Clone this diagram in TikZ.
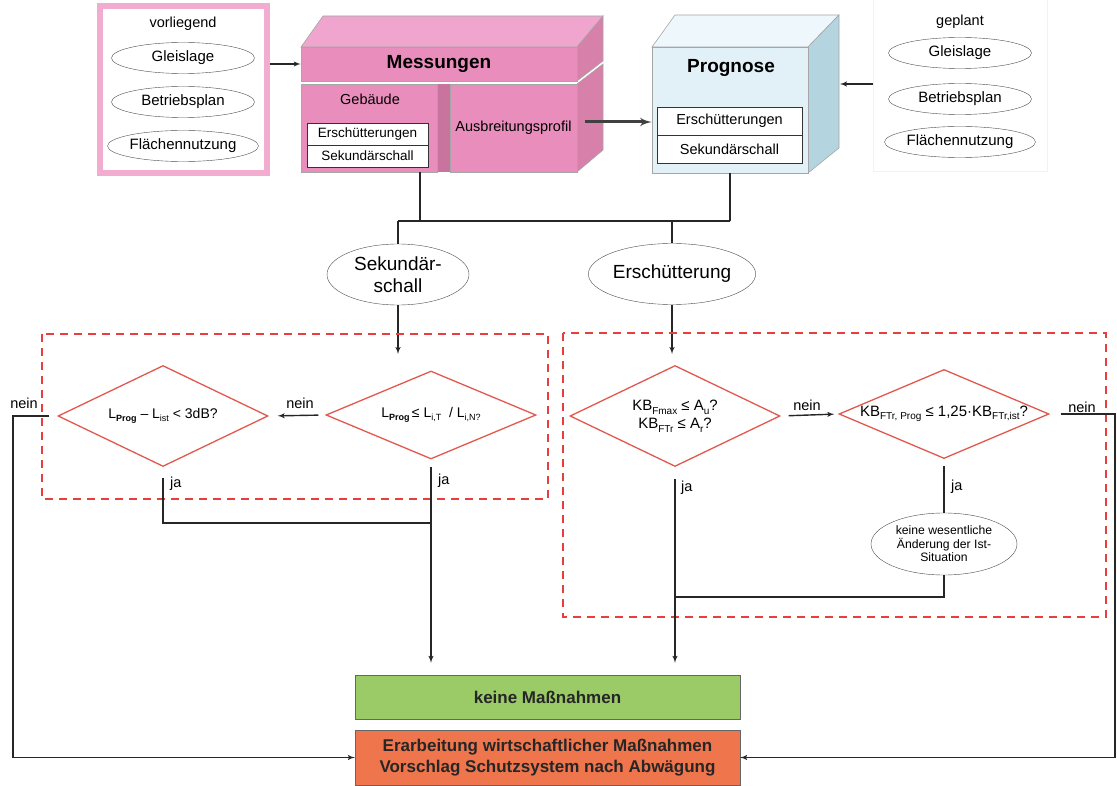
\documentclass[tikz,border=0pt]{standalone}
\usepackage{fontspec}
\setmainfont{Liberation Sans}
\usepackage{tikz}
\usetikzlibrary{shapes,arrows,positioning,calc}
\definecolor{messfront}{RGB}{233,142,188}
\definecolor{messtop}{RGB}{239,165,205}
\definecolor{messside}{RGB}{214,128,170}
\definecolor{messgap}{RGB}{200,116,158}
\definecolor{progfront}{RGB}{226,241,247}
\definecolor{progtop}{RGB}{238,247,251}
\definecolor{progside}{RGB}{180,213,223}
\definecolor{framepink}{RGB}{242,172,208}
\definecolor{checkred}{RGB}{226,88,78}
\definecolor{zonered}{RGB}{232,62,62}
\definecolor{okgreen}{RGB}{154,203,102}
\definecolor{actorange}{RGB}{239,117,76}
\newcommand{\fsz}[1]{\fontsize{#1}{#1}\selectfont}
\newcommand{\lsub}[1]{\raisebox{-0.45ex}{\fontsize{9}{9}\selectfont #1}}
\newcommand{\ksub}[1]{\raisebox{-0.45ex}{\fontsize{10}{10}\selectfont #1}}
\tikzset{
    input/.style={ellipse, draw=black!70, fill=white, minimum width=143pt, minimum height=31pt, inner sep=0pt, font=\fsz{15}},
    topic/.style={ellipse, draw=black!70, fill=white, minimum width=142pt, minimum height=61pt, inner sep=0pt, align=center, font=\fontsize{19}{22}\selectfont},
    check/.style={diamond, aspect=2.3, draw=checkred, line width=1.3pt, fill=white, minimum width=210pt, minimum height=90pt, inner sep=0pt, align=center, font=\fsz{14}},
    zone/.style={draw=zonered, line width=2.2pt, dash pattern=on 8pt off 6pt},
    cell/.style={rectangle, draw=black!80, fill=white, inner sep=0pt},
    messbox/.style={rectangle, draw=black!35, line width=0.6pt, fill=messfront, inner sep=0pt},
    result/.style={rectangle, draw=black!60, inner sep=0pt, minimum width=385pt, align=center, text=black!85},
    lbl/.style={font=\fsz{14.5}, inner sep=0pt},
    line/.style={draw=black!85, line width=1.4pt},
    arr/.style={draw=black!85, line width=1.4pt, -latex'},
    bigarr/.style={draw=black!75, line width=3pt, -latex'}
}
\begin{document}
\begin{tikzpicture}[x=1pt,y=-1pt]
    \useasboundingbox (0,0) rectangle (1117,786);

    % vorliegend inputs
    \node [draw=framepink, line width=6pt, minimum width=167pt, minimum height=167pt] (vorl) at (183.5,89.5) {};
    \node [lbl] (vorltxt) at (183,24) {vorliegend};
    \foreach \y/\n/\t in {58/vgleis/Gleislage, 102/vbetr/Betriebsplan, 146/vflaech/Flächennutzung}
        \node [input] (\n) at (183,\y) {\t};

    % Messungen block
    \filldraw [fill=messtop, draw=black!35, line width=0.6pt] (301,47) -- (323,16) -- (603,16) -- (577,47) -- cycle;
    \filldraw [fill=messside, draw=black!35, line width=0.6pt] (577,47) -- (603,16) -- (603,61) -- (577,81) -- cycle;
    \filldraw [fill=messside, draw=black!35, line width=0.6pt] (577,84) -- (603,64) -- (603,150) -- (577,172) -- cycle;
    \fill [messgap] (437,84) rectangle (450,172);
    \node [messbox, minimum width=276pt, minimum height=34pt, font=\bfseries\fsz{19}] (mess) at (439,64) {Messungen};
    \node [messbox, minimum width=136pt, minimum height=88pt] (geb) at (369,128) {};
    \node [messbox, minimum width=127pt, minimum height=88pt, font=\fsz{14.5}] (ausb) at (513.5,128) {Ausbreitungsprofil};
    \node [lbl] (gebtxt) at (370,99) {Gebäude};
    \node [cell, minimum width=121pt, minimum height=22pt, font=\fsz{13.5}] (merschb) at (367.5,134) {Erschütterungen};
    \node [cell, minimum width=121pt, minimum height=22pt, font=\fsz{13.5}] (msekb) at (367.5,156) {Sekundärschall};

    % Prognose block
    \filldraw [fill=progtop, draw=black!35, line width=0.6pt] (652,47) -- (675,15) -- (839,15) -- (808,47) -- cycle;
    \filldraw [fill=progside, draw=black!35, line width=0.6pt] (808,47) -- (839,15) -- (839,148) -- (808,173) -- cycle;
    \node [rectangle, draw=black!35, line width=0.6pt, fill=progfront, minimum width=156pt, minimum height=126pt] (prog) at (730,110) {};
    \node [font=\bfseries\fsz{19}] (progtxt) at (731,68) {Prognose};
    \node [cell, minimum width=145pt, minimum height=28pt, font=\fsz{14.5}] (persch) at (729.5,121) {Erschütterungen};
    \node [cell, minimum width=145pt, minimum height=28pt, font=\fsz{14.5}] (psek) at (729.5,149) {Sekundärschall};

    % geplant inputs
    \node [draw=black!5, line width=1pt, minimum width=174pt, minimum height=172pt] (gepl) at (960,86) {};
    \node [lbl] (gepltxt) at (960,22) {geplant};
    \foreach \y/\n/\t in {53/ggleis/Gleislage, 99/gbetr/Betriebsplan, 142/gflaech/Flächennutzung}
        \node [input] (\n) at (960,\y) {\t};

    % inputs into the blocks
    \coordinate (ausbout) at (585,122);
    \coordinate (progin) at (840,84);
    \path [arr] (vorl.east |- mess.west) -- (mess.west);
    \path [bigarr] (ausbout) -- (prog.west |- ausbout);
    \path [arr] (gepl.west |- progin) -- (progin);

    % split into Sekundaerschall and Erschuetterung
    \node [topic] (sek) at (398,274.5) {Sekundär-\\schall};
    \node [topic, minimum width=135pt] (ersch) at (672,274) {Erschütterung};
    \coordinate (messout) at (420,172);
    \coordinate (bus) at (0,221);
    \path [line] (messout) -- (messout |- bus);
    \path [line] (prog.south) -- (prog.south |- bus);
    \path [line] (sek.north |- bus) -- (prog.south |- bus);
    \path [line] (sek.north |- bus) -- (sek.north);
    \path [line] (ersch.north |- bus) -- (ersch.north);
    \coordinate (sekin) at (398,354);
    \path [arr] (sek.south) -- (sekin);
    \path [arr] (ersch.south) -- (ersch.south |- sekin);

    % check zones
    \draw [zone] (42,334) rectangle (548,499);
    \draw [zone] (563,333) rectangle (1106,617);

    % checks
    \node [check, minimum height=101pt] (dab) at (163,416) {L\lsub{\textbf{Prog}} – L\lsub{ist} < 3dB?};
    \node [check, minimum height=88pt] (grenz) at (431,415) {L\lsub{\textbf{Prog}}\,≤ L\lsub{i,T}~ / L\lsub{i,N?}};
    \node [check, minimum height=101pt, font=\fontsize{15}{18}\selectfont] (kbabs) at (675,416) {KB\ksub{Fmax} ≤ A\ksub{u}?\\KB\ksub{FTr} ≤ A\ksub{r}?};
    \node [check, minimum height=89pt, font=\fsz{15}] (kbrel) at (944,414) {KB\ksub{FTr, Prog} ≤ 1,25·KB\ksub{FTr,ist}?};
    \node [ellipse, draw=black!70, fill=white, minimum width=146pt, minimum height=62pt, inner sep=0pt, align=center, font=\fontsize{12.2}{13.5}\selectfont] (keinwes) at (944,544) {keine wesentliche\\Änderung der Ist-\\Situation};

    % results
    \node [result, fill=okgreen, minimum height=44pt, font=\bfseries\fsz{17}] (keine) at (547.5,697) {keine Maßnahmen};
    \node [result, fill=actorange, minimum height=55pt, font=\bfseries\fontsize{17}{21}\selectfont] (massn) at (547.5,757.5) {Erarbeitung wirtschaftlicher Maßnahmen\\Vorschlag Schutzsystem nach Abwägung};

    % Sekundaerschall paths
    \coordinate (joinl) at (431,523);
    \coordinate (leftrail) at (13,0);
    \path [arr, shorten <=7pt, shorten >=9pt] (grenz.west) -- (dab.east);
    \node [lbl] (nein1) at (300,403) {nein};
    \path [line, shorten <=11pt] (dab.south) |- (joinl);
    \path [arr, shorten <=7pt, shorten >=12pt] (grenz.south) -- (grenz.south |- keine.north);
    \node [lbl, anchor=west] (ja1) at (170,484) {ja};
    \node [lbl, anchor=west] (ja2) at (438,481) {ja};
    \path [arr, shorten <=8pt] (dab.west) -- (dab.west -| leftrail) |- (massn.west);
    \node [lbl] (nein0) at (24,403) {nein};

    % Erschuetterung paths
    \coordinate (joinr) at (675,597);
    \coordinate (rightrail) at (1115,0);
    \path [arr, shorten <=8pt, shorten >=4pt] (kbabs.east) -- (kbrel.west);
    \node [lbl] (nein2) at (807,405) {nein};
    \path [arr, shorten <=12pt, shorten >=12pt] (kbabs.south) -- (kbabs.south |- keine.north);
    \path [line, shorten <=7pt] (kbrel.south) -- (keinwes.north);
    \path [line] (keinwes.south) |- (joinr);
    \node [lbl, anchor=west] (ja3) at (681,488) {ja};
    \node [lbl, anchor=west] (ja4) at (951,487) {ja};
    \path [arr, shorten <=11pt] (kbrel.east) -- (kbrel.east -| rightrail) |- (massn.east);
    \node [lbl] (nein3) at (1082,407) {nein};
\end{tikzpicture}
\end{document}
